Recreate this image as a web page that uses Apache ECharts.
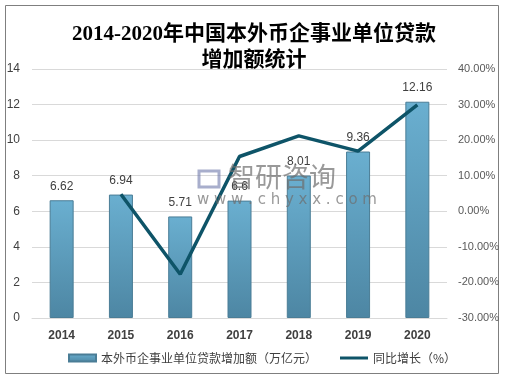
<!DOCTYPE html>
<html><head><meta charset="utf-8">
<script src="https://cdn.jsdelivr.net/npm/echarts@6/dist/echarts.min.js"></script>
<style>html,body{margin:0;padding:0;background:#fff}#c{width:529px;height:380px}</style>
</head><body><div id="c"></div>
<script>
var years = ['2014','2015','2016','2017','2018','2019','2020'];
var loanIncrease = [6.62, 6.94, 5.71, 6.6, 8.01, 9.36, 12.16];
var yoyGrowth = [null, 4.8, -17.7, 15.4, 21.2, 16.9, 29.9];
var leftTicks = {min: 0, max: 14, interval: 2};
var rightTicks = {min: -30, max: 40, interval: 10};
var barName = '本外币企事业单位贷款增加额（万亿元）';
var lineName = '同比增长（%）';
var titleText = '2014-2020年中国本外币企事业单位贷款\n增加额统计';

var chart = echarts.init(document.getElementById('c'), null, {renderer: 'canvas'});
chart.setOption({
  animation: false,
  backgroundColor: '#fff',
  title: {
    text: titleText, left: 249, top: 17, textAlign: 'center',
    textStyle: {fontFamily: 'Liberation Serif, Noto Sans CJK SC', fontSize: 21, fontWeight: 'bold', color: '#000', lineHeight: 26}
  },
  graphic: [
    {type: 'rect', shape: {x: 5.5, y: 5.5, width: 493, height: 368}, style: {fill: 'none', stroke: '#7f7f7f', lineWidth: 1}, z: -1},
    {type: 'text', left: 228, top: 163, style: {text: '智研咨询', fontSize: 27, fontFamily: 'Noto Sans CJK SC', fill: 'rgba(110,110,110,0.7)'}, z: 100},
    {type: 'text', left: 197, top: 193, style: {text: 'w w w . c h y x x . c o m', fontSize: 15, fontFamily: 'DejaVu Sans', fill: 'rgba(110,110,110,0.7)'}, z: 100},
    {type: 'rect', shape: {x: 199, y: 171, width: 20, height: 16}, style: {fill: 'none', stroke: 'rgba(110,120,170,0.6)', lineWidth: 3}, z: 100}
  ],
  legend: [
    {left: 63, top: 347, itemWidth: 27, itemHeight: 7,
     textStyle: {fontSize: 12, color: '#404040', fontFamily: 'Noto Sans CJK SC'},
     data: [{name: barName, icon: 'rect'}]},
    {left: 335, top: 347, itemWidth: 28, itemHeight: 3, itemGap: 3,
     textStyle: {fontSize: 12, color: '#404040', fontFamily: 'Noto Sans CJK SC'},
     data: [{name: lineName, icon: 'rect', itemStyle: {color: '#0e5468'}}]}
  ],
  grid: {left: 32, right: 82, top: 69, bottom: 62, containLabel: false},
  xAxis: {
    type: 'category', data: years,
    axisTick: {show: false},
    axisLine: {lineStyle: {color: '#d9d9d9'}},
    axisLabel: {fontSize: 12, fontWeight: 'bold', color: '#404040', margin: 12, fontFamily: 'Liberation Sans'}
  },
  yAxis: [
    {type: 'value', min: leftTicks.min, max: leftTicks.max, interval: leftTicks.interval,
     axisLine: {show: false}, axisTick: {show: false},
     splitLine: {lineStyle: {color: '#d9d9d9'}},
     axisLabel: {fontSize: 12, color: '#404040', margin: 12, fontFamily: 'Liberation Sans'}},
    {type: 'value', min: rightTicks.min, max: rightTicks.max, interval: rightTicks.interval,
     axisLine: {show: false}, axisTick: {show: false}, splitLine: {show: false},
     axisLabel: {fontSize: 11, color: '#595959', margin: 11, fontFamily: 'Liberation Sans',
       formatter: function (v) { return v.toFixed(2) + '%'; }}}
  ],
  series: [
    {name: barName, type: 'bar', data: loanIncrease, barWidth: 24,
     itemStyle: {
       color: new echarts.graphic.LinearGradient(0, 0, 0, 1, [{offset: 0, color: '#6aafd0'}, {offset: 1, color: '#4d86a3'}]),
       borderColor: '#4a7d96', borderWidth: 1
     },
     label: {show: true, position: 'top', fontSize: 12, color: '#404040', distance: 8, fontFamily: 'Liberation Sans'}},
    {name: lineName, type: 'line', yAxisIndex: 1, data: yoyGrowth, showSymbol: false, symbol: 'none',
     lineStyle: {color: '#0e5468', width: 3.5}, itemStyle: {color: '#0e5468'}, z: 5}
  ]
});
</script></body></html>
